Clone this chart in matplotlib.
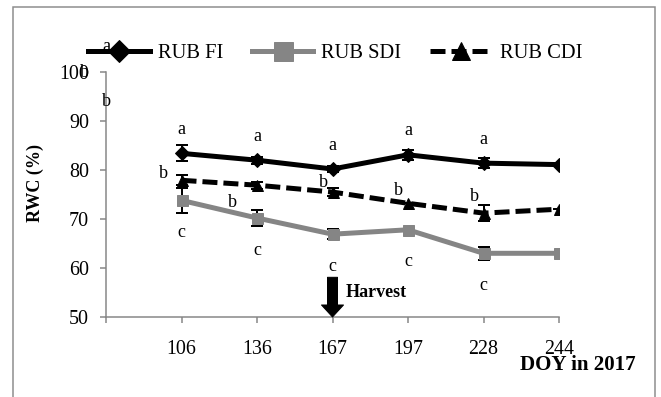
import matplotlib
matplotlib.use("Agg")
import matplotlib.pyplot as plt
from matplotlib.lines import Line2D
from matplotlib.patches import Rectangle

# ---- data ----
doy = ["106", "136", "167", "197", "228", "244"]
rub_fi = [83.4, 82.0, 80.2, 83.1, 81.4, 81.1]
rub_fi_err = [1.6, 0.7, 0.7, 1.0, 1.0, 0.0]
rub_sdi = [73.8, 70.2, 66.9, 67.8, 63.0, 63.0]
rub_sdi_err = [2.5, 1.7, 1.0, 0.0, 1.3, 0.0]
rub_cdi = [77.9, 76.9, 75.5, 73.2, 71.2, 72.0]
rub_cdi_err = [1.0, 0.7, 0.8, 0.0, 1.6, 0.0]
fi_letters = ["a", "a", "a", "a", "a", ""]
sdi_letters = ["c", "c", "c", "c", "c", ""]
cdi_letters = ["b", "b", "b", "b", "b", ""]
harvest_day = "167"

# ---- layout helpers (offsets in points) ----
fi_off = [(0, 24)] * 6
sdi_off = [(0, -32)] * 6
cdi_off = [(-18, 7), (-25, -17), (-9, 10), (-10, 13), (-9, 17), (0, 0)]

plt.rcParams["font.family"] = ["Liberation Serif", "DejaVu Serif"]
DPI = 72
fig = plt.figure(figsize=(661 / DPI, 397 / DPI), dpi=DPI)
fig.patch.set_facecolor("white")

# outer frame
fig.add_artist(Rectangle((13 / 661, -0.05), (655 - 13) / 661, 1.05 - 7 / 397,
                         transform=fig.transFigure, fill=False,
                         edgecolor="#8c8c8c", linewidth=1.5))

ax = fig.add_axes([106 / 661, 1 - 317 / 397, (559 - 106) / 661, (317 - 72) / 397])
x = list(range(1, len(doy) + 1))

gray = "#858585"
ax.errorbar(x, rub_fi, yerr=rub_fi_err, color="black", lw=5, marker="D",
            markersize=10, ecolor="black", elinewidth=2, capsize=6, capthick=2,
            zorder=4)
ax.errorbar(x, rub_sdi, yerr=rub_sdi_err, color=gray, lw=5, marker="s",
            markersize=11, ecolor="black", elinewidth=2, capsize=6, capthick=2,
            zorder=3)
cdi = ax.errorbar(x, rub_cdi, yerr=rub_cdi_err, color="black", lw=5, marker="^",
                  markersize=11, ecolor="black", elinewidth=2, capsize=6,
                  capthick=2, zorder=3)
cdi[0].set_dashes((3, 1.2))

for letters, vals, offs in ((fi_letters, rub_fi, fi_off),
                            (sdi_letters, rub_sdi, sdi_off),
                            (cdi_letters, rub_cdi, cdi_off)):
    for xi, v, lab, off in zip(x, vals, letters, offs):
        if lab:
            ax.annotate(lab, (xi, v), xytext=off, textcoords="offset points",
                        ha="center", va="center", fontsize=18, zorder=6)

# letters at the start of the axis
ax.text(0, 105.3, "a", ha="center", va="center", fontsize=18, clip_on=False)
ax.text(-0.28, 99.8, "b", ha="center", va="center", fontsize=18, clip_on=False)
ax.text(0, 93.9, "b", ha="center", va="center", fontsize=18, clip_on=False)

# harvest marker
hx = doy.index(harvest_day) + 1
ax.annotate("", xy=(hx, 50), xytext=(hx, 58.1),
            arrowprops=dict(arrowstyle="simple,head_length=0.6,head_width=1.1,tail_width=0.5",
                            fc="black", ec="black", shrinkA=0, shrinkB=0,
                            mutation_scale=20), annotation_clip=False, zorder=7)
ax.text(hx + 0.17, 55.1, "Harvest", fontsize=18, fontweight="bold",
        ha="left", va="center")

ax.set_xlim(0, len(doy))
ax.set_ylim(50, 100)
ax.set_xticks(range(0, len(doy) + 1))
ax.set_xticklabels([""] + doy)
ax.set_yticks(range(50, 101, 10))
ax.tick_params(axis="x", length=6, width=1.5, color=gray, pad=17, labelsize=20)
ax.tick_params(axis="y", length=6, width=1.5, color=gray, pad=11, labelsize=20)
for s in ("top", "right"):
    ax.spines[s].set_visible(False)
for s in ("left", "bottom"):
    ax.spines[s].set_color(gray)
    ax.spines[s].set_linewidth(1.5)

fig.text(35 / 661, 1 - 183 / 397, "RWC (%)", rotation=90, fontsize=18,
         fontweight="bold", ha="center", va="center")
fig.text(578 / 661, 1 - 365 / 397, "DOY in 2017", fontsize=21,
         fontweight="bold", ha="center", va="center")

handles = [
    Line2D([], [], color="black", lw=5, marker="D", markersize=16),
    Line2D([], [], color=gray, lw=5, marker="s", markersize=19),
    Line2D([], [], color="black", lw=5, marker="^", markersize=18, dashes=(3, 1.2)),
]
fig.legend(handles, ["RUB FI", "RUB SDI", "RUB CDI"], loc="center left",
           bbox_to_anchor=(88 / 661, 1 - 53 / 397), ncol=3, frameon=False,
           fontsize=20.5, handlelength=3.0, handletextpad=0.4, columnspacing=1.4,
           borderaxespad=0, borderpad=0)

fig.savefig("out.png", dpi=DPI, facecolor="white")
